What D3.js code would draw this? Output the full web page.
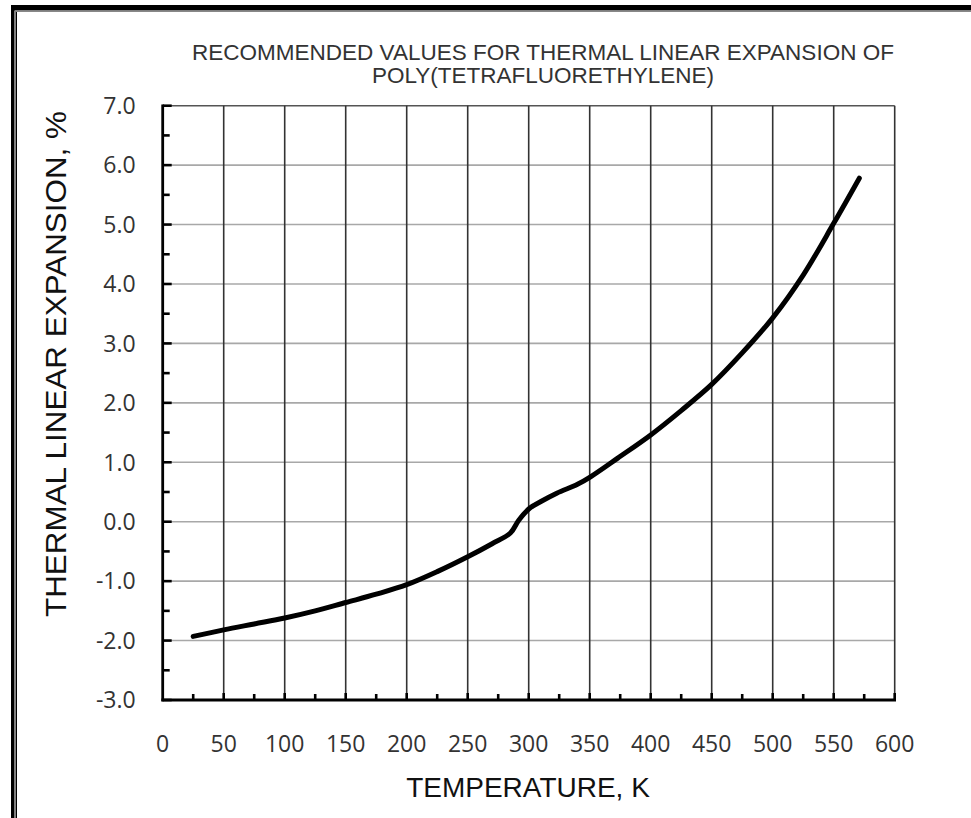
<!DOCTYPE html>
<html><head><meta charset="utf-8">
<script src="https://cdn.jsdelivr.net/npm/d3@7"></script>
<style>html,body{margin:0;padding:0;background:#fff;}svg{display:block;}</style>
</head><body>
<svg id="chart" width="971" height="818"></svg>
<script>
// ---- data ----
const temperatureK = [25, 50, 75, 100, 125, 150, 175, 200, 225, 250, 270, 285, 292, 301, 310, 323, 340, 351, 373, 400, 425, 450, 475, 500, 525, 550, 571];
const expansionPct = [-1.93, -1.82, -1.72, -1.62, -1.50, -1.36, -1.22, -1.06, -0.84, -0.59, -0.37, -0.19, 0.03, 0.23, 0.34, 0.48, 0.63, 0.76, 1.07, 1.46, 1.87, 2.31, 2.84, 3.43, 4.15, 5.02, 5.78];
const xTicks = [0, 50, 100, 150, 200, 250, 300, 350, 400, 450, 500, 550, 600];
const yTicks = [-3, -2, -1, 0, 1, 2, 3, 4, 5, 6, 7];
const titleLines = ["RECOMMENDED VALUES FOR THERMAL LINEAR EXPANSION OF", "POLY(TETRAFLUORETHYLENE)"];
const xTitle = "TEMPERATURE, K";
const yTitle = "THERMAL LINEAR EXPANSION, %";

const svg = d3.select("#chart");
const W = 971, H = 818;

// frame
svg.append("rect").attr("x", 11).attr("y", 5).attr("width", W - 11).attr("height", 5.5).attr("fill", "#000");
svg.append("rect").attr("x", 11).attr("y", 5).attr("width", 3.5).attr("height", H - 5).attr("fill", "#000");
svg.append("rect").attr("x", 15.5).attr("y", 11).attr("width", 1.5).attr("height", H - 11).attr("fill", "#000");
svg.append("rect").attr("x", 15.5).attr("y", 11).attr("width", W - 15.5).attr("height", 1).attr("fill", "#888");

const x = d3.scaleLinear().domain([0, 600]).range([162.7, 894.7]);
const y = d3.scaleLinear().domain([-3, 7]).range([700, 105.7]);
const fmtY = d => d3.format(".1f")(d).replace("\u2212", "-");

const g = svg.append("g");

// horizontal gridlines (gray)
g.append("g").selectAll("line").data(yTicks.filter(d => d > -3)).join("line")
  .attr("x1", x(0)).attr("x2", x(600))
  .attr("y1", d => y(d)).attr("y2", d => y(d))
  .attr("stroke", d => d === 7 ? "#555" : "#a8a8a8").attr("stroke-width", 1.6);

// vertical gridlines (dark)
g.append("g").selectAll("line").data(xTicks.filter(d => d > 0)).join("line")
  .attr("x1", d => x(d)).attr("x2", d => x(d))
  .attr("y1", y(7)).attr("y2", y(-3))
  .attr("stroke", "#333").attr("stroke-width", 1.6);

// y axis with inward ticks
const yMinor = d3.range(-3, 7.01, 0.5).filter(d => Math.abs(d - Math.round(d)) > 0.01);
const yAx = g.append("g").attr("transform", `translate(${x(0)},0)`);
yAx.selectAll("line.maj").data(yTicks).join("line").attr("class", "maj")
  .attr("x1", 0).attr("x2", 9).attr("y1", d => y(d)).attr("y2", d => y(d))
  .attr("stroke", "#000").attr("stroke-width", 2.6);
yAx.selectAll("line.min").data(yMinor).join("line").attr("class", "min")
  .attr("x1", 0).attr("x2", 7).attr("y1", d => y(d)).attr("y2", d => y(d))
  .attr("stroke", "#000").attr("stroke-width", 2.6);
yAx.append("line").attr("x1", 0).attr("x2", 0).attr("y1", y(7) - 1.3).attr("y2", y(-3) + 1.3)
  .attr("stroke", "#000").attr("stroke-width", 2.8);
yAx.selectAll("text").data(yTicks).join("text")
  .attr("x", -27).attr("y", d => y(d)).attr("dy", "0.36em")
  .attr("text-anchor", "end")
  .attr("font-family", "'Open Sans', sans-serif").attr("font-size", 23).attr("fill", "#333")
  .text(fmtY);

// x axis with upward ticks
const xMinor = d3.range(25, 600, 50);
const xAx = g.append("g").attr("transform", `translate(0,${y(-3)})`);
xAx.selectAll("line.maj").data(xTicks.filter(d => d > 0)).join("line").attr("class", "maj")
  .attr("x1", d => x(d)).attr("x2", d => x(d)).attr("y1", 0).attr("y2", -7)
  .attr("stroke", "#000").attr("stroke-width", 2.6);
xAx.selectAll("line.min").data(xMinor).join("line").attr("class", "min")
  .attr("x1", d => x(d)).attr("x2", d => x(d)).attr("y1", 0).attr("y2", -6)
  .attr("stroke", "#000").attr("stroke-width", 2.6);
xAx.append("line").attr("x1", x(0) - 1.3).attr("x2", x(600) + 1.3).attr("y1", 0).attr("y2", 0)
  .attr("stroke", "#000").attr("stroke-width", 2.8);
xAx.selectAll("text").data(xTicks).join("text")
  .attr("x", d => x(d)).attr("y", 52)
  .attr("text-anchor", "middle")
  .attr("font-family", "'Open Sans', sans-serif").attr("font-size", 23).attr("fill", "#333")
  .text(d => d);

// curve
const line = d3.line().x((d, i) => x(temperatureK[i])).y(d => y(d)).curve(d3.curveCatmullRom.alpha(0.5));
g.append("path").datum(expansionPct).attr("d", line)
  .attr("fill", "none").attr("stroke", "#000").attr("stroke-width", 5)
  .attr("stroke-linecap", "round").attr("stroke-linejoin", "round");

// titles
svg.append("g").selectAll("text").data(titleLines).join("text")
  .attr("x", 543).attr("y", (d, i) => 60 + i * 23)
  .attr("text-anchor", "middle")
  .attr("font-family", "'Liberation Sans', Arial, sans-serif").attr("font-size", 22.5).attr("fill", "#333")
  .text(d => d);

svg.append("text").attr("x", 528).attr("y", 797).attr("text-anchor", "middle")
  .attr("font-family", "'Liberation Sans', Arial, sans-serif").attr("font-size", 28).attr("fill", "#111")
  .text(xTitle);

svg.append("text").attr("transform", "translate(66,364) rotate(-90)").attr("text-anchor", "middle")
  .attr("font-family", "'Liberation Sans', Arial, sans-serif").attr("font-size", 30)
  .attr("textLength", 506).attr("lengthAdjust", "spacingAndGlyphs").attr("fill", "#111")
  .text(yTitle);
</script>
</body></html>
